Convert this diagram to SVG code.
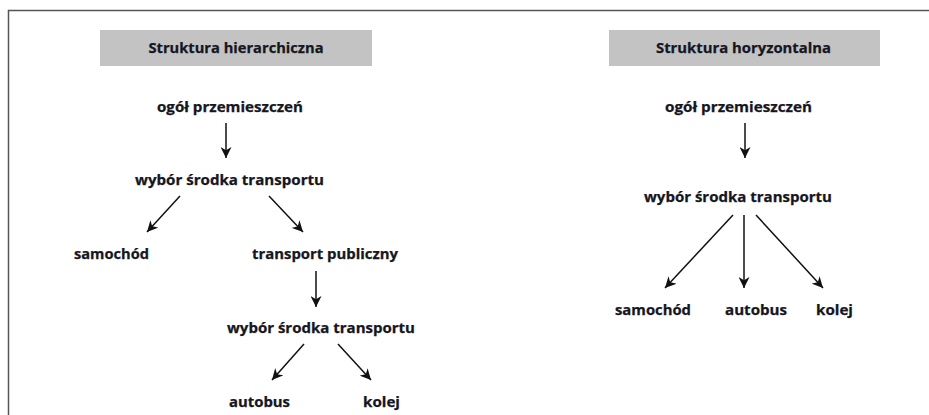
<svg xmlns="http://www.w3.org/2000/svg" width="929" height="415" viewBox="0 0 929 415">
<style>
.t{font-family:"Open Sans","Noto Sans","Liberation Sans",sans-serif;font-weight:bold;font-size:14px;fill:#161622;stroke:#161622;stroke-width:0.25;text-anchor:middle}
.hdr{fill:#c3c3c3}
.c{stroke:#111;stroke-width:1.5;fill:none;marker-end:url(#ah)}
</style>
<defs>
<marker id="ah" viewBox="0 0 10 10" refX="10" refY="5" markerWidth="11" markerHeight="11" markerUnits="userSpaceOnUse" orient="auto">
<path d="M0,0 L10,5 L0,10 L3,5 z" fill="#111"/>
</marker>
</defs>
<rect width="929" height="415" fill="#fff"/>
<path d="M8.5,415 V10.5 H929" fill="none" stroke="#555" stroke-width="1.5"/>

<g id="h-title"><rect class="hdr" x="100" y="30" width="272" height="36"/><text class="t" x="236" y="53" textLength="175" lengthAdjust="spacingAndGlyphs">Struktura hierarchiczna</text></g>
<g id="h-ogol"><text class="t" x="230" y="112" textLength="146" lengthAdjust="spacingAndGlyphs">ogół przemieszczeń</text></g>
<g id="h-wybor1"><text class="t" x="229.5" y="185" textLength="189" lengthAdjust="spacingAndGlyphs">wybór środka transportu</text></g>
<g id="h-samochod"><text class="t" x="111.5" y="259" textLength="75" lengthAdjust="spacingAndGlyphs">samochód</text></g>
<g id="h-publiczny"><text class="t" x="325" y="259" textLength="146" lengthAdjust="spacingAndGlyphs">transport publiczny</text></g>
<g id="h-wybor2"><text class="t" x="321" y="333" textLength="188" lengthAdjust="spacingAndGlyphs">wybór środka transportu</text></g>
<g id="h-autobus"><text class="t" x="259.5" y="407" textLength="61" lengthAdjust="spacingAndGlyphs">autobus</text></g>
<g id="h-kolej"><text class="t" x="381.5" y="407" textLength="37" lengthAdjust="spacingAndGlyphs">kolej</text></g>

<g id="v-title"><rect class="hdr" x="609" y="30" width="271" height="36"/><text class="t" x="743.5" y="53" textLength="175" lengthAdjust="spacingAndGlyphs">Struktura horyzontalna</text></g>
<g id="v-ogol"><text class="t" x="738.5" y="112" textLength="147" lengthAdjust="spacingAndGlyphs">ogół przemieszczeń</text></g>
<g id="v-wybor"><text class="t" x="738" y="202" textLength="188" lengthAdjust="spacingAndGlyphs">wybór środka transportu</text></g>
<g id="v-samochod"><text class="t" x="653" y="315" textLength="76" lengthAdjust="spacingAndGlyphs">samochód</text></g>
<g id="v-autobus"><text class="t" x="756" y="315" textLength="62" lengthAdjust="spacingAndGlyphs">autobus</text></g>
<g id="v-kolej"><text class="t" x="834.5" y="315" textLength="37" lengthAdjust="spacingAndGlyphs">kolej</text></g>

<g id="connectors">
<line class="c" x1="226" y1="123" x2="226" y2="158"/>
<line class="c" x1="180" y1="196" x2="147" y2="232"/>
<line class="c" x1="269" y1="196" x2="303" y2="232"/>
<line class="c" x1="316" y1="271" x2="316" y2="307"/>
<line class="c" x1="304" y1="344" x2="272" y2="380"/>
<line class="c" x1="338" y1="344" x2="371" y2="380"/>
<line class="c" x1="745" y1="123" x2="745" y2="158"/>
<line class="c" x1="733" y1="215" x2="665" y2="288"/>
<line class="c" x1="744" y1="215" x2="744" y2="288"/>
<line class="c" x1="756" y1="215" x2="823" y2="288"/>
</g>
</svg>
